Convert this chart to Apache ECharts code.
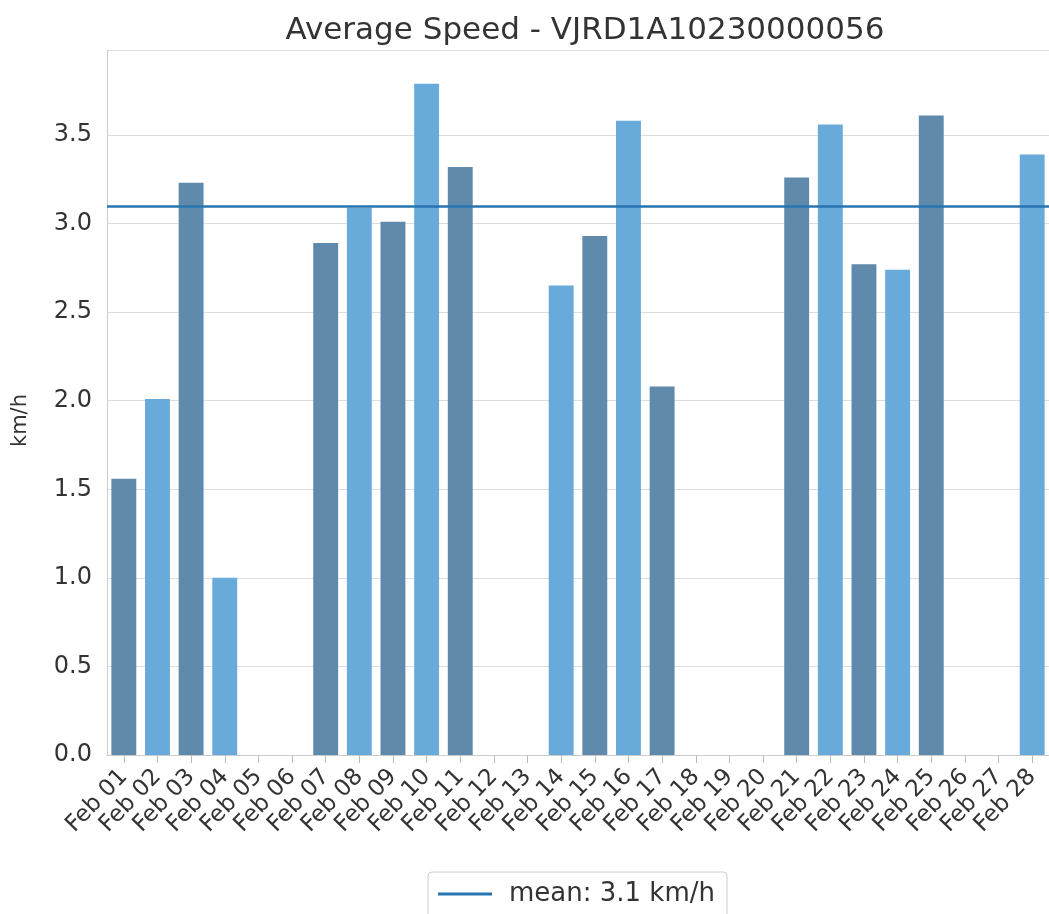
<!DOCTYPE html>
<html>
<head>
<meta charset="utf-8">
<script src="https://cdn.jsdelivr.net/npm/echarts@6/dist/echarts.min.js"></script>
<style>
  html, body { margin: 0; padding: 0; background: #fff; }
  #chart { width: 1049px; height: 914px; }
</style>
</head>
<body>
<div id="chart"></div>
<script>
var days = ['Feb 01','Feb 02','Feb 03','Feb 04','Feb 05','Feb 06','Feb 07','Feb 08','Feb 09','Feb 10',
            'Feb 11','Feb 12','Feb 13','Feb 14','Feb 15','Feb 16','Feb 17','Feb 18','Feb 19','Feb 20',
            'Feb 21','Feb 22','Feb 23','Feb 24','Feb 25','Feb 26','Feb 27','Feb 28'];
// average speed per day, km/h (null = no data)
var speeds = [1.56, 2.01, 3.23, 1.00, null, null, 2.89, 3.09, 3.01, 3.79,
              3.32, null, null, 2.65, 2.93, 3.58, 2.08, null, null, null,
              3.26, 3.56, 2.77, 2.74, 3.61, null, null, 3.39];
var meanSpeed = 3.1;
var barColors = ['#5f8aab', '#68aada'];

var myChart = echarts.init(document.getElementById('chart'));

var option = {
    animation: false,
    title: {
        text: 'Average Speed - VJRD1A10230000056',
        left: 580,
        textAlign: 'center',
        top: 10,
        textStyle: {
            fontFamily: 'DejaVu Sans',
            fontSize: 31,
            fontWeight: 'normal',
            color: '#333'
        }
    },
    legend: {
        data: ['mean: ' + meanSpeed + ' km/h'],
        left: 428,
        top: 872,
        icon: 'rect',
        itemWidth: 54,
        itemHeight: 3,
        itemGap: 10,
        padding: [9, 12, 14, 10],
        borderColor: '#ccc',
        borderWidth: 1,
        borderRadius: 4,
        textStyle: {
            fontFamily: 'DejaVu Sans',
            fontSize: 26,
            color: '#333',
            padding: [0, 0, 0, 12]
        }
    },
    grid: {
        left: 107,
        top: 50,
        width: 946,
        bottom: 159
    },
    xAxis: {
        type: 'category',
        data: days,
        axisLine: { lineStyle: { color: '#ccc' } },
        axisTick: { show: true, alignWithLabel: true, length: 8, lineStyle: { color: '#bbb' } },
        axisLabel: {
            rotate: 46,
            interval: 0,
            margin: 18,
            fontFamily: 'DejaVu Sans',
            fontSize: 23,
            color: '#333'
        }
    },
    yAxis: {
        type: 'value',
        min: 0,
        max: 3.98,
        interval: 0.5,
        name: 'km/h',
        nameLocation: 'middle',
        nameGap: 76,
        nameTextStyle: {
            fontFamily: 'DejaVu Sans',
            fontSize: 21,
            color: '#333',
            padding: [0, 36, 0, 0]
        },
        axisLine: { show: true, lineStyle: { color: '#ccc' } },
        axisTick: { show: false },
        splitLine: { lineStyle: { color: '#ddd', width: 1.2 } },
        axisLabel: {
            showMaxLabel: false,
            margin: 15,
            fontFamily: 'DejaVu Sans',
            fontSize: 24,
            color: '#333',
            formatter: function (v) { return v.toFixed(1); }
        }
    },
    series: [
        {
            name: 'speed',
            type: 'bar',
            data: speeds,
            barCategoryGap: '26%',
            itemStyle: {
                color: function (params) {
                    return barColors[params.dataIndex % 2];
                }
            }
        },
        {
            name: 'mean: ' + meanSpeed + ' km/h',
            type: 'line',
            data: [],
            color: '#2775b0',
            lineStyle: { color: '#2775b0', width: 2.5 },
            markLine: {
                silent: true,
                symbol: ['none', 'none'],
                label: { show: false },
                lineStyle: { color: '#2775b0', width: 2.5, type: 'solid' },
                data: [{ yAxis: meanSpeed }]
            }
        }
    ]
};

myChart.setOption(option);
</script>
</body>
</html>
